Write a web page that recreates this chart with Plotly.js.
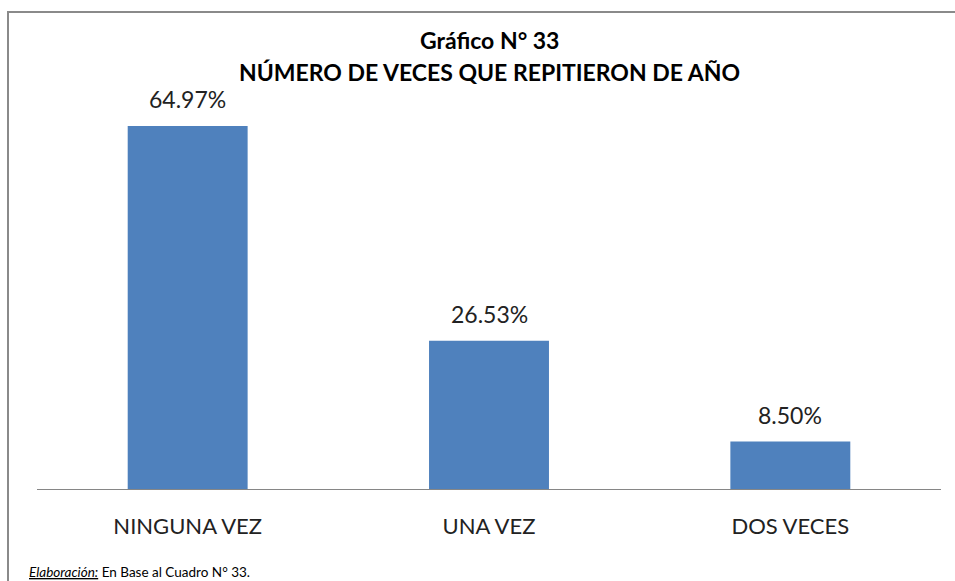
<!DOCTYPE html>
<html>
<head>
<meta charset="utf-8">
<script src="https://cdn.plot.ly/plotly-3.0.1.min.js"></script>
<style>
html,body{margin:0;padding:0;background:#fff;}
#wrap{position:relative;width:955px;height:581px;}
#chart{position:absolute;left:0;top:0;width:955px;height:581px;}
#frame{position:absolute;left:7px;top:11px;width:960px;height:600px;border-top:2px solid #8a8a8a;border-left:2px solid #8a8a8a;pointer-events:none;}
</style>
</head>
<body>
<div id="wrap"><div id="chart"></div><div id="frame"></div></div>
<script>
const categories = ["NINGUNA VEZ", "UNA VEZ", "DOS VECES"];
const percentages = [64.97, 26.53, 8.50];
const valueLabels = ["64.97%", "26.53%", "8.50%"];
const titleLines = ["Gráfico N° 33", "NÚMERO DE VECES QUE REPITIERON DE AÑO"];
const sourceLabel = "Elaboración:";
const sourceText = " En Base al Cuadro N° 33.";

const FONT = "Lato, 'Open Sans', sans-serif";

const trace = {
  type: "bar",
  x: categories,
  y: percentages,
  marker: {color: "#4F81BD"},
  hoverinfo: "skip"
};

const annotations = categories.map((c, i) => ({
  x: c, y: percentages[i], xref: "x", yref: "y",
  text: valueLabels[i], showarrow: false,
  yanchor: "bottom", yshift: 11,
  font: {family: FONT, size: 23, color: "#222"}
}));
const titleY = [1.148, 1.0665];
titleLines.forEach((t, i) => annotations.push({
  xref: "paper", yref: "paper", x: 0.5, y: titleY[i],
  xanchor: "center", yanchor: "middle", showarrow: false,
  text: "<b>" + t + "</b>",
  font: {family: FONT, size: 23, color: "#000"}
}));
annotations.push({
  xref: "paper", yref: "paper", x: -0.011, y: -0.212,
  xanchor: "left", yanchor: "middle", showarrow: false,
  text: "<i><u>" + sourceLabel + "</u></i>" + sourceText,
  font: {family: FONT, size: 13.5, color: "#000"}
});

const layout = {
  width: 955, height: 581,
  margin: {l: 37, r: 14, t: 98, b: 92},
  paper_bgcolor: "#fff", plot_bgcolor: "#fff",
  showlegend: false,
  bargap: 0.602,
  xaxis: {
    showline: true, linecolor: "#868686", linewidth: 1,
    showgrid: false, zeroline: false, ticks: "",
    ticklabelstandoff: 18,
    tickfont: {family: FONT, size: 22, color: "#222"},
    fixedrange: true
  },
  yaxis: {
    range: [0, 70], visible: false, showgrid: false, zeroline: false, fixedrange: true
  },
  annotations: annotations
};

Plotly.newPlot("chart", [trace], layout, {displayModeBar: false, staticPlot: true});
</script>
</body>
</html>
